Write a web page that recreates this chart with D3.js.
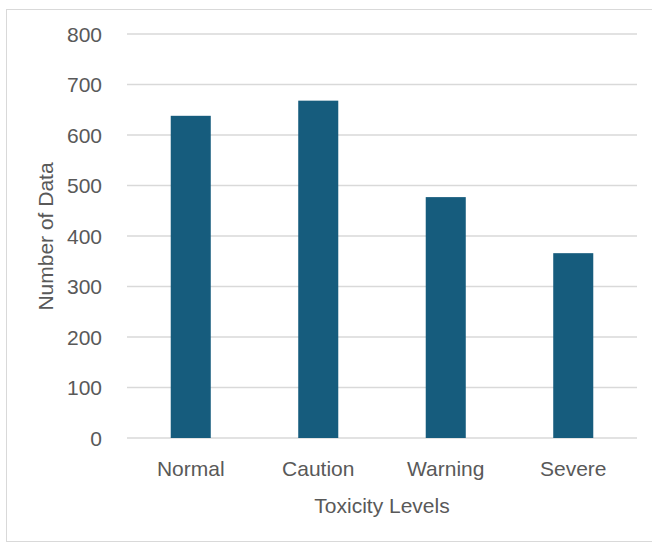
<!DOCTYPE html>
<html>
<head>
<meta charset="utf-8">
<script src="https://cdn.jsdelivr.net/npm/d3@7"></script>
<style>
  html, body { margin: 0; padding: 0; background: #fff; }
  svg { display: block; }
  text { font-family: "Liberation Sans", Arial, sans-serif; fill: #595959; }
</style>
</head>
<body>
<svg id="chart" width="652" height="543"></svg>
<script>
// Sample counts per toxicity level
const categories = ["Normal", "Caution", "Warning", "Severe"];
const counts = [638, 668, 477, 366];
const yTicks = [0, 100, 200, 300, 400, 500, 600, 700, 800];

const W = 652, H = 543;
const margin = { top: 34, right: 15, bottom: 105, left: 127 };
const innerW = W - margin.left - margin.right;
const innerH = H - margin.top - margin.bottom;

const svg = d3.select("#chart");

// Chart area frame
svg.append("rect")
  .attr("x", 6.5).attr("y", 9.5)
  .attr("width", W + 10).attr("height", 532)
  .attr("fill", "#fff")
  .attr("stroke", "#d9d9d9")
  .attr("stroke-width", 1);

const g = svg.append("g").attr("transform", `translate(${margin.left},${margin.top})`);

const x = d3.scaleBand().domain(categories).range([0, innerW]).paddingInner(0.686).paddingOuter(0.343);
const y = d3.scaleLinear().domain([0, 800]).range([innerH, 0]);

// Horizontal gridlines
g.append("g")
  .selectAll("line")
  .data(yTicks)
  .join("line")
  .attr("x1", 0).attr("x2", innerW)
  .attr("y1", d => y(d)).attr("y2", d => y(d))
  .attr("stroke", "#d9d9d9")
  .attr("stroke-width", 1.5);

// Bars
g.append("g")
  .selectAll("rect")
  .data(categories)
  .join("rect")
  .attr("x", d => x(d))
  .attr("width", x.bandwidth())
  .attr("y", (d, i) => y(counts[i]))
  .attr("height", (d, i) => y(0) - y(counts[i]))
  .attr("fill", "#165c7d");

// Y axis labels
const yAxis = g.append("g")
  .call(d3.axisLeft(y).tickValues(yTicks).tickSize(0).tickPadding(25).tickFormat(d3.format("d")));
yAxis.select(".domain").remove();
yAxis.selectAll("text")
  .style("font-size", "21px")
  .attr("fill", "#595959")
  .attr("dy", "0.35em");

// X axis labels
const xAxis = g.append("g")
  .attr("transform", `translate(0,${innerH})`)
  .call(d3.axisBottom(x).tickSize(0).tickPadding(23));
xAxis.select(".domain").remove();
xAxis.selectAll("text")
  .style("font-size", "21px")
  .attr("fill", "#595959");

// Axis titles
svg.append("text")
  .attr("x", margin.left + innerW / 2)
  .attr("y", 513)
  .attr("text-anchor", "middle")
  .style("font-size", "21px")
  .text("Toxicity Levels");

svg.append("text")
  .attr("transform", "translate(53,236.5) rotate(-90)")
  .attr("text-anchor", "middle")
  .style("font-size", "21px")
  .text("Number of Data");
</script>
</body>
</html>
